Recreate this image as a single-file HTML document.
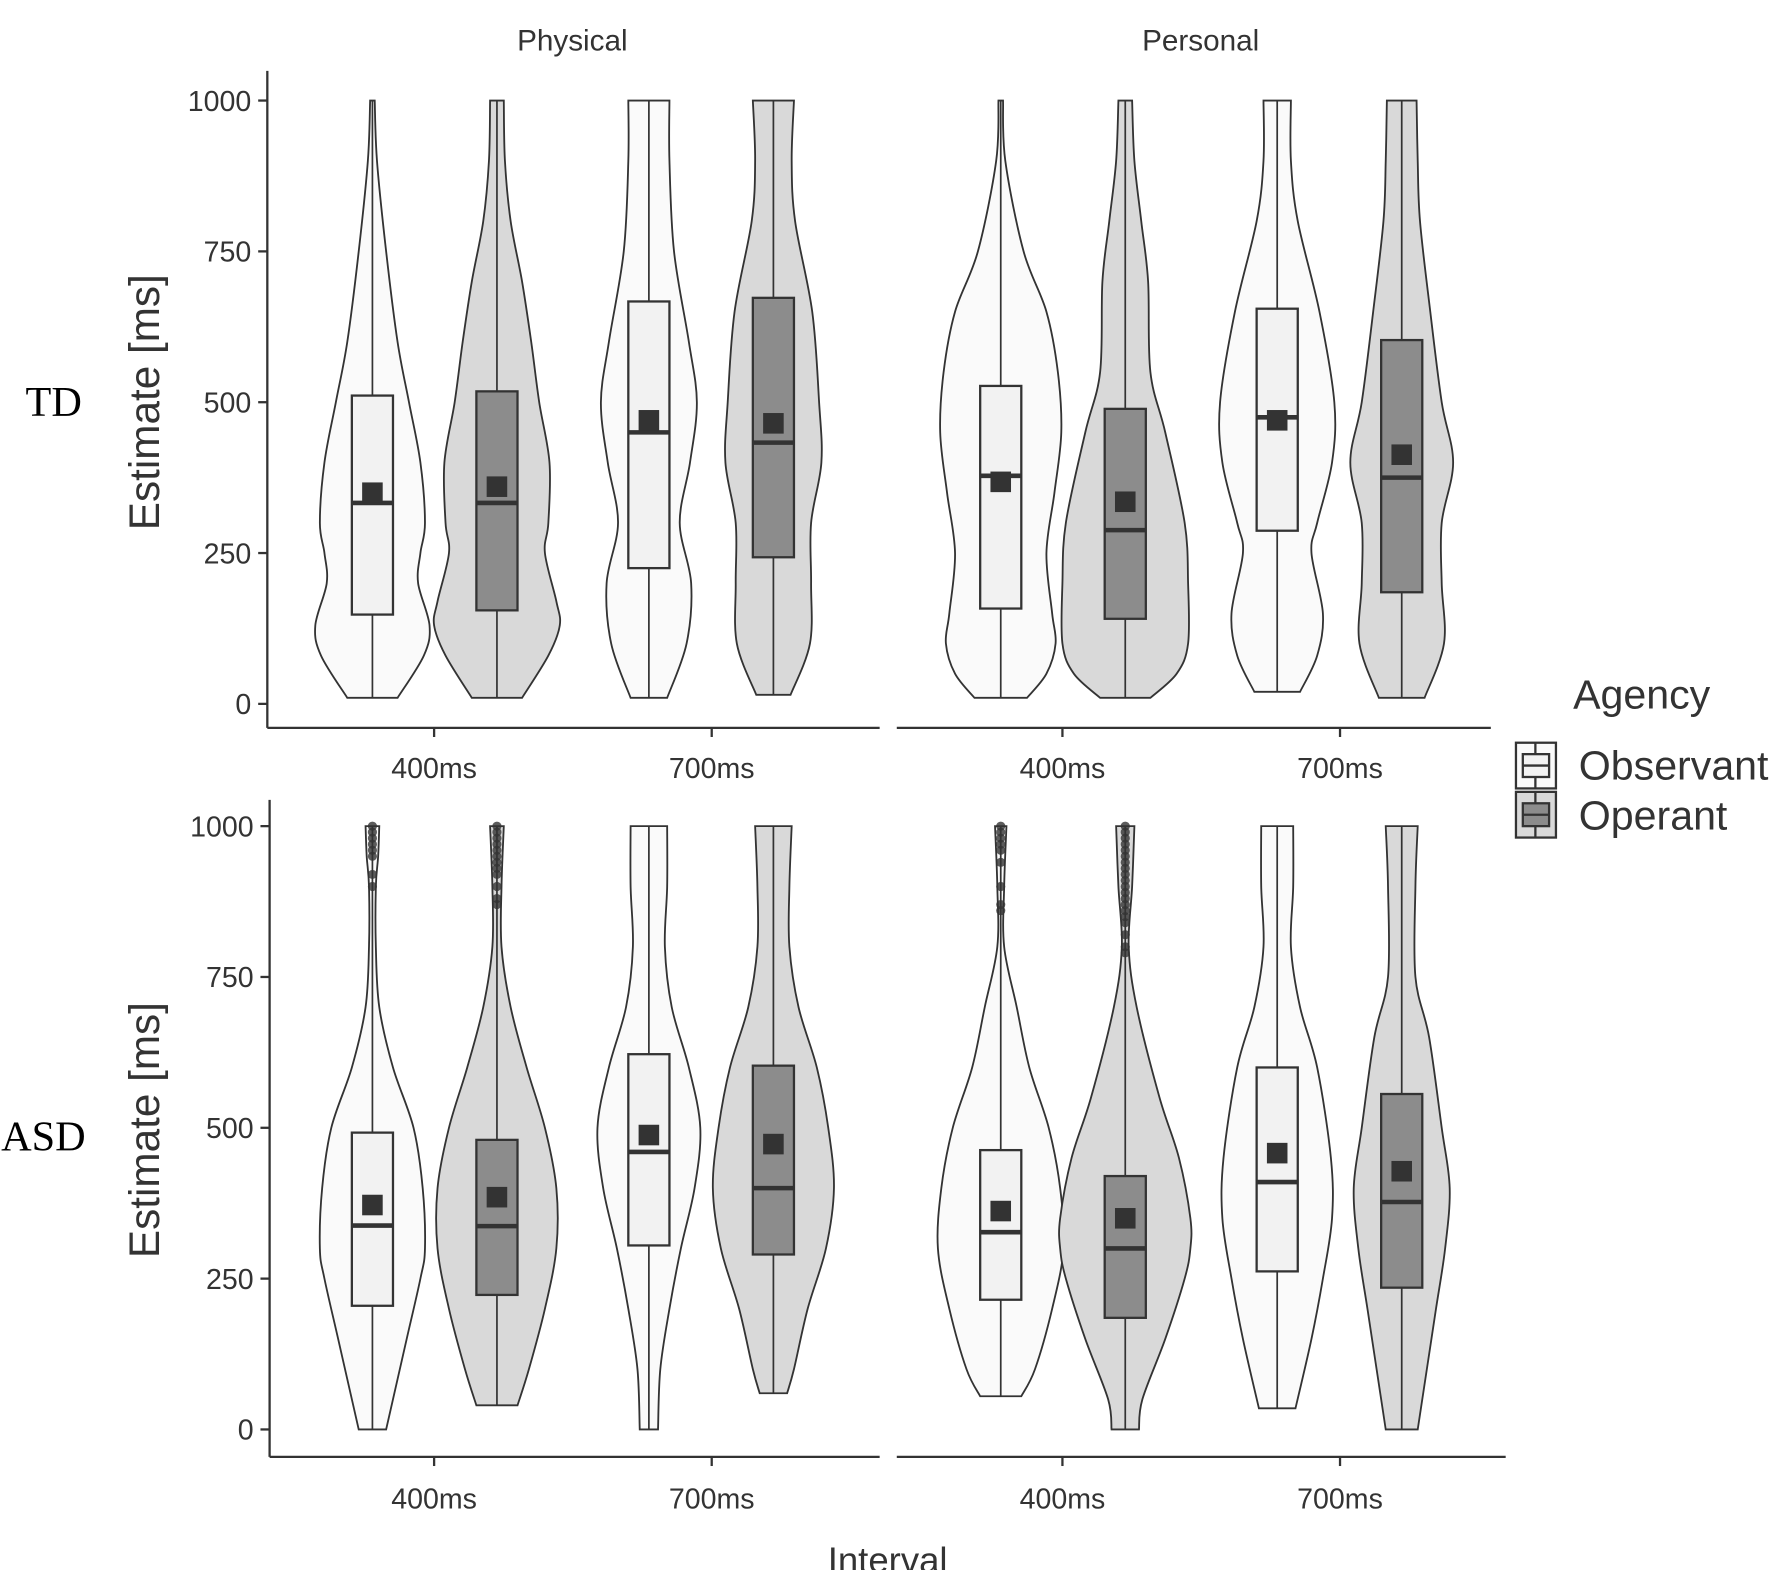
<!DOCTYPE html>
<html><head><meta charset="utf-8"><style>
html,body{margin:0;padding:0;background:#fff;}
svg{display:block;}
text{font-family:"Liberation Sans",sans-serif;fill:#333;}
</style></head><body>
<svg id="s" width="1773" height="1570" viewBox="0 0 1552 1374" preserveAspectRatio="none" xmlns="http://www.w3.org/2000/svg">
<rect width="1552" height="1374" fill="#fff"/>
<g id="plots"></g>
<g stroke="#333" stroke-width="2" fill="none">
<line x1="234" y1="62" x2="234" y2="637"/><line x1="234" y1="637" x2="770" y2="637"/><line x1="785" y1="637" x2="1305" y2="637"/>
<line x1="236" y1="700" x2="236" y2="1275"/><line x1="236" y1="1275" x2="770" y2="1275"/><line x1="785" y1="1275" x2="1318" y2="1275"/>
</g>
<g id="ticks" stroke="#333" stroke-width="2"></g>
<g id="labels" font-size="25" text-anchor="end"></g>
<text x="501" y="44" font-size="26" text-anchor="middle">Physical</text>
<text x="1051" y="44" font-size="26" text-anchor="middle">Personal</text>
<text x="47" y="364" font-size="37" text-anchor="middle" style="font-family:'Liberation Serif',serif;fill:#000">TD</text>
<text x="38" y="1007" font-size="37" text-anchor="middle" style="font-family:'Liberation Serif',serif;fill:#000">ASD</text>
<text transform="translate(139,352) rotate(-90)" font-size="37" text-anchor="middle">Estimate [ms]</text>
<text transform="translate(139,989) rotate(-90)" font-size="37" text-anchor="middle">Estimate [ms]</text>
<text x="777" y="1376" font-size="32" text-anchor="middle">Interval</text>
<text x="1377" y="620" font-size="36">Agency</text>
<g stroke="#333" stroke-width="2">
<rect x="1327" y="650" width="35" height="40" fill="#fafafa"/><rect x="1333" y="660" width="23" height="20" fill="#f2f2f2"/><line x1="1333" y1="670" x2="1356" y2="670"/><line x1="1344" y1="650" x2="1344" y2="660"/><line x1="1344" y1="680" x2="1344" y2="690"/>
<rect x="1327" y="693" width="35" height="40" fill="#d9d9d9"/><rect x="1333" y="703" width="23" height="20" fill="#8c8c8c"/><line x1="1333" y1="713" x2="1356" y2="713"/><line x1="1344" y1="693" x2="1344" y2="703"/><line x1="1344" y1="723" x2="1344" y2="733"/>
</g>
<text x="1382" y="682" font-size="36">Observant</text>
<text x="1382" y="726" font-size="36">Operant</text>
</svg>
<script>
const NS="http://www.w3.org/2000/svg";
const g=document.getElementById('plots'),tk=document.getElementById('ticks'),lb=document.getElementById('labels');
function el(p,n,a,t){const e=document.createElementNS(NS,n);for(const k in a)e.setAttribute(k,a[k]);if(t!=null)e.textContent=t;p.appendChild(e);return e;}
const panels=[{y0:616,ax:234},{y0:1251,ax:236}];
const sc=0.528;
panels.forEach(P=>{[0,250,500,750,1000].forEach(v=>{const y=P.y0-v*sc;el(tk,'line',{x1:P.ax-8,x2:P.ax,y1:y,y2:y});el(lb,'text',{x:P.ax-14,y:y+9},v);});
 const xy=P.y0===616?637:1275;const ly=P.y0===616?681:1320;
 [[380,'400ms'],[623,'700ms'],[930,'400ms'],[1173,'700ms']].forEach(([x,t])=>{el(tk,'line',{x1:x,x2:x,y1:xy,y2:xy+8});el(lb,'text',{x:x,y:ly,'text-anchor':'middle'},t);});
});
function smooth(pts){let d='M'+pts[0][0]+','+pts[0][1];for(let i=0;i<pts.length-1;i++){const p0=pts[Math.max(0,i-1)],p1=pts[i],p2=pts[i+1],p3=pts[Math.min(pts.length-1,i+2)];
 const c1=[p1[0]+(p2[0]-p0[0])/6,p1[1]+(p2[1]-p0[1])/6],c2=[p2[0]-(p3[0]-p1[0])/6,p2[1]-(p3[1]-p1[1])/6];d+=` C${c1[0]},${c1[1]} ${c2[0]},${c2[1]} ${p2[0]},${p2[1]}`;}return d;}
function violin(cx,y0,prof,box,mean,op,outl){
 const pr=prof.slice().sort((a,b)=>b[0]-a[0]);
 const right=pr.map(([v,w])=>[cx+w,y0-v*sc]);const left=pr.slice().reverse().map(([v,w])=>[cx-w,y0-v*sc]);
 let d=smooth(right);d+=' L'+left[0][0]+','+left[0][1]+smooth(left).replace(/^M[^C]*/,' ')+'Z';
 el(g,'path',{d:d,fill:op?'#d9d9d9':'#fafafa',stroke:'#333','stroke-width':1.6});
 const top=y0-pr[0][0]*sc,bot=y0-pr[pr.length-1][0]*sc;
 el(g,'line',{x1:cx,x2:cx,y1:top,y2:bot,stroke:'#333','stroke-width':1.5});
 const [q1,md,q3]=box;
 el(g,'rect',{x:cx-18,y:y0-q3*sc,width:36,height:(q3-q1)*sc,fill:op?'#8c8c8c':'#f2f2f2',stroke:'#333','stroke-width':2});
 el(g,'line',{x1:cx-18,x2:cx+18,y1:y0-md*sc,y2:y0-md*sc,stroke:'#333','stroke-width':4});
 (outl||[]).forEach(v=>el(g,'circle',{cx:cx,cy:y0-v*sc,r:4,fill:'#333','fill-opacity':0.8}));
 el(g,'rect',{x:cx-9,y:y0-mean*sc-9,width:18,height:18,fill:'#333'});
}
const T=616,B=1251;
violin(326,T,[[1000,2],[900,4],[750,12],[600,22],[500,32],[400,42],[300,46],[250,42],[200,40],[130,50],[80,45],[10,22]],[148,333,511],350,0);
violin(435,T,[[1000,6],[900,7],[800,12],[700,22],[600,30],[500,37],[400,46],[300,45],[250,42],[170,52],[130,55],[80,45],[10,22]],[155,333,518],360,1);
violin(568,T,[[1000,18],[900,18],[750,22],[600,35],[500,42],[400,36],[300,27],[200,37],[100,33],[10,16]],[225,450,667],470,0);
violin(677,T,[[1000,18],[900,16],[800,19],[650,34],[500,40],[400,42],[300,33],[200,33],[100,32],[15,15]],[243,433,673],465,1);
violin(876,T,[[1000,2],[900,4],[750,20],[650,40],[550,50],[450,53],[350,47],[250,40],[150,45],[100,48],[50,40],[10,23]],[158,378,527],368,0);
violin(985,T,[[1000,6],[900,8],[800,14],[700,20],[550,22],[450,35],[300,52],[200,55],[100,55],[50,45],[10,22]],[141,288,489],335,1);
violin(1118,T,[[1000,12],[900,12],[800,18],[650,37],[500,50],[400,48],[300,35],[250,30],[150,40],[80,35],[20,20]],[287,475,655],470,0);
violin(1227,T,[[1000,13],[900,14],[800,16],[650,25],[500,35],[400,45],[300,35],[200,35],[100,37],[10,20]],[185,375,603],413,1);
violin(326,B,[[1000,6],[950,5],[900,3],[800,3],[700,6],[600,18],[500,36],[400,44],[300,46],[250,42],[150,30],[50,18],[0,12]],[205,338,492],372,0,[1000,990,980,970,960,950,920,900]);
violin(435,B,[[1000,6],[900,4],[800,4],[700,12],[600,26],[500,42],[400,52],[300,52],[200,42],[100,28],[40,18]],[223,337,480],385,1,[1000,990,980,970,960,950,940,930,920,900,880,870]);
violin(568,B,[[1000,16],[900,16],[800,14],[700,20],[600,35],[500,45],[400,40],[300,28],[200,18],[100,10],[0,8]],[305,460,622],488,0);
violin(677,B,[[1000,16],[900,14],[800,14],[700,22],[600,38],[500,48],[400,53],[300,46],[200,30],[100,18],[60,12]],[290,400,603],473,1);
violin(876,B,[[1000,5],[900,3],[800,3],[700,14],[600,25],[500,42],[400,52],[300,55],[200,45],[100,30],[55,18]],[215,327,463],362,0,[1000,990,980,970,960,940,900,870,860]);
violin(985,B,[[1000,8],[900,6],[800,3],[700,10],[550,30],[450,47],[350,57],[300,57],[250,52],[150,35],[50,15],[0,12]],[185,300,420],350,1,[1000,990,980,970,960,950,940,930,920,910,900,890,880,870,860,850,840,820,800,790]);
violin(1118,B,[[1000,14],[900,14],[800,12],[700,20],[600,35],[450,47],[350,48],[250,40],[150,30],[35,16]],[262,410,600],458,0);
violin(1227,B,[[1000,14],[900,12],[750,12],[650,24],[500,35],[400,42],[300,38],[200,30],[100,22],[0,14]],[235,377,556],428,1);
</script>
</body></html>
